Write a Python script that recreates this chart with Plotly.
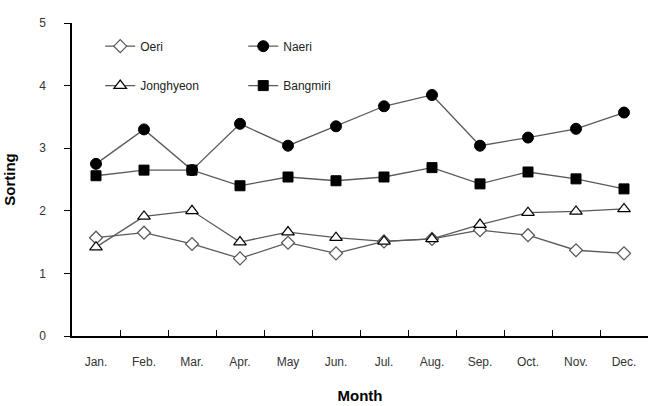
import plotly.graph_objects as go

months = ["Jan.", "Feb.", "Mar.", "Apr.", "May", "Jun.", "Jul.", "Aug.", "Sep.", "Oct.", "Nov.", "Dec."]
oeri = [1.57, 1.65, 1.47, 1.24, 1.49, 1.32, 1.51, 1.55, 1.69, 1.61, 1.37, 1.32]
naeri = [2.75, 3.30, 2.65, 3.39, 3.04, 3.35, 3.67, 3.85, 3.04, 3.17, 3.31, 3.57]
jonghyeon = [1.42, 1.91, 2.00, 1.50, 1.66, 1.57, 1.51, 1.55, 1.78, 1.97, 1.99, 2.03]
bangmiri = [2.56, 2.65, 2.65, 2.40, 2.54, 2.48, 2.54, 2.69, 2.43, 2.62, 2.51, 2.35]

LINE = dict(color="#5a5a5a", width=1.3)
fig = go.Figure()
fig.add_trace(go.Scatter(x=months, y=oeri, name="Oeri", mode="lines+markers", line=LINE,
                         marker=dict(symbol="diamond", size=10, color="white", line=dict(color="#555", width=1.2)),
                         legend="legend"))
fig.add_trace(go.Scatter(x=months, y=naeri, name="Naeri", mode="lines+markers", line=LINE,
                         marker=dict(symbol="circle", size=11, color="black", line=dict(color="black", width=1)),
                         legend="legend"))
fig.add_trace(go.Scatter(x=months, y=jonghyeon, name="Jonghyeon", mode="lines+markers", line=LINE,
                         marker=dict(symbol="triangle-up", size=11, color="white", line=dict(color="black", width=1.2)),
                         legend="legend2"))
fig.add_trace(go.Scatter(x=months, y=bangmiri, name="Bangmiri", mode="lines+markers", line=LINE,
                         marker=dict(symbol="square", size=10, color="black", line=dict(color="black", width=1)),
                         legend="legend2"))

FONT = "Liberation Sans, Arial, sans-serif"
leg = dict(orientation="h", x=0.049, xanchor="left", yanchor="middle", entrywidth=98, entrywidthmode="pixels",
           font=dict(family=FONT, size=12, color="#222"), bgcolor="rgba(0,0,0,0)", traceorder="normal")
fig.update_layout(
    width=650, height=406,
    margin=dict(l=72, r=2, t=23, b=70),
    paper_bgcolor="white", plot_bgcolor="white",
    font=dict(family=FONT, size=12, color="#222"),
    legend=dict(leg, y=0.926),
    legend2=dict(leg, y=0.80),
    xaxis=dict(range=[-0.5, 11.5], showline=True, linecolor="black", linewidth=1.5,
               ticks="inside", tickson="boundaries", ticklen=6, tickwidth=1.3, tickcolor="black",
               showgrid=False, zeroline=False, ticklabelstandoff=14,
               title=dict(text="<b>Month</b>", font=dict(size=15, color="black"), standoff=22),
               tickfont=dict(size=12, color="#333")),
    yaxis=dict(range=[0, 5], dtick=1, showline=True, linecolor="black", linewidth=1.5,
               ticks="outside", ticklen=6, tickwidth=1.3, tickcolor="black", showgrid=False, zeroline=False,
               ticklabelstandoff=16,
               title=dict(text="<b>Sorting</b>", font=dict(size=15, color="black"), standoff=20),
               tickfont=dict(size=12, color="#333")),
)
fig.write_html("out.html")
